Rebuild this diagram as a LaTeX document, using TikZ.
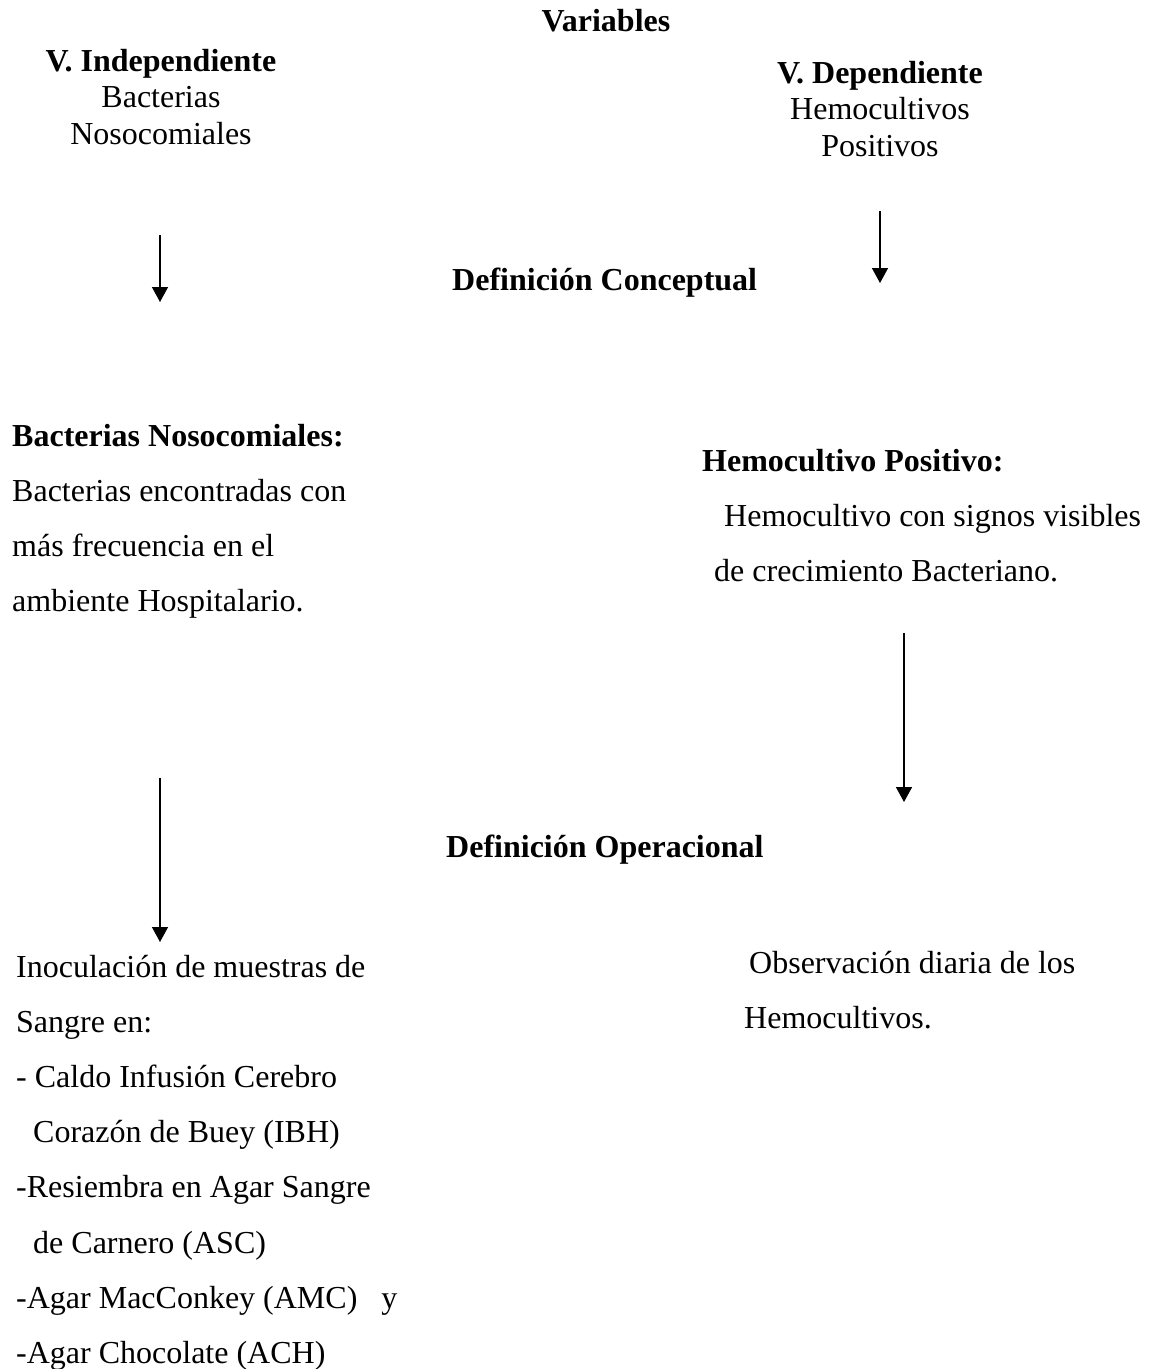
\documentclass[tikz,border=0pt]{standalone}
\usepackage{fontspec}
\setmainfont{Liberation Serif}
\usetikzlibrary{arrows.meta}
\begin{document}
\begin{tikzpicture}[x=1pt,y=-1pt,
  body/.style={inner sep=0pt, anchor=base west, font=\fontsize{32}{55.2}\selectfont, align=left},
  head/.style={inner sep=0pt, anchor=base, font=\fontsize{32}{36.8}\selectfont, align=center},
  ttl/.style={inner sep=0pt, anchor=base west, font=\fontsize{32}{36.8}\selectfont\bfseries},
  arr/.style={line width=1.5pt, -{Triangle[length=15pt,width=16pt]}}]
\useasboundingbox (0,0) rectangle (1155,1369);

% headers (anchor = baseline of the last line)
\node[head, font=\fontsize{32}{36.8}\selectfont\bfseries] (var) at (606,31) {Variables};
\node[head] (vind) at (161,144.6) {\textbf{V. Independiente}\\Bacterias\\Nosocomiales};
\node[head] (vdep) at (880,156.6) {\textbf{V. Dependiente}\\Hemocultivos\\Positivos};

% section titles
\node[ttl] (dc) at (452,290) {Definición Conceptual};
\node[ttl] (dop) at (446,857) {Definición Operacional};

% conceptual definitions
\node[body] (bn) at (12,611.6) {\textbf{Bacterias Nosocomiales:}\\Bacterias encontradas con\\más frecuencia en el\\ambiente Hospitalario.};
\node[body] (hp) at (702,581.4) {\textbf{Hemocultivo Positivo:}\\\hspace*{22pt}Hemocultivo con signos visibles\\\hspace*{12pt}de crecimiento Bacteriano.};

% operational definitions
\node[body] (ino) at (16,1363.4) {Inoculación de muestras de\\Sangre en:\\- Caldo Infusión Cerebro\\\hspace*{17pt}Corazón de Buey (IBH)\\-Resiembra en Agar Sangre\\\hspace*{17pt}de Carnero (ASC)\\-Agar MacConkey (AMC)\hspace*{24pt}y\\-Agar Chocolate (ACH)};
\node[body] (obs) at (749,1028.2) {Observación diaria de los\\\hspace*{-5pt}Hemocultivos.};

% arrows
\coordinate (a1s) at (160,235); \coordinate (a1e) at (160,302);
\coordinate (a2s) at (880,211); \coordinate (a2e) at (880,283);
\coordinate (a3s) at (904,633); \coordinate (a3e) at (904,802);
\coordinate (a4s) at (160,778); \coordinate (a4e) at (160,942);
\draw[arr] (a1s) -- (a1e);
\draw[arr] (a2s) -- (a2e);
\draw[arr] (a3s) -- (a3e);
\draw[arr] (a4s) -- (a4e);
\end{tikzpicture}
\end{document}
